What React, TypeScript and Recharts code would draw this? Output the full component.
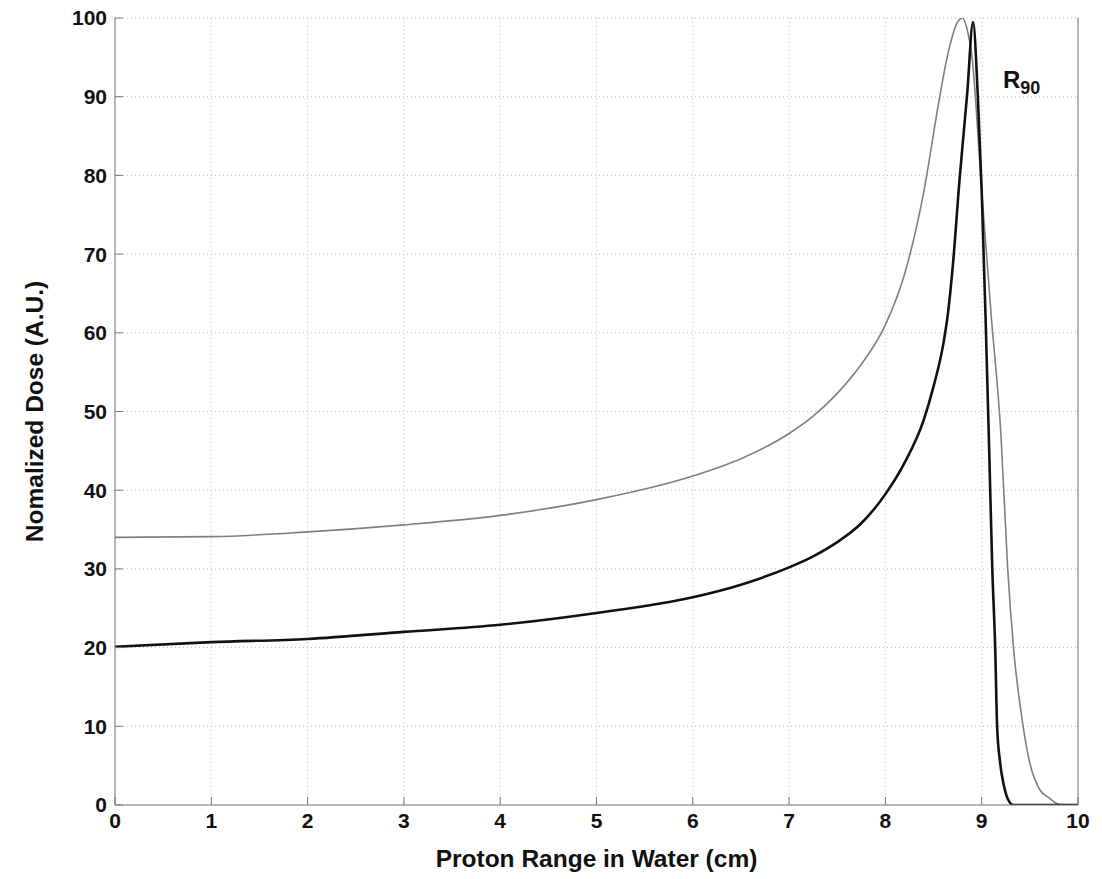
import React from 'react';
import {
  CartesianGrid,
  Line,
  LineChart,
  ReferenceDot,
  XAxis,
  YAxis,
} from 'recharts';

// broad (gray) depth-dose curve
const grayX = [0, 1, 2, 3, 4, 5, 6, 6.5, 7, 7.25, 7.5, 7.75, 8, 8.2, 8.4, 8.55, 8.65, 8.75, 8.8, 8.85, 8.9, 9, 9.1, 9.2, 9.27, 9.33, 9.43, 9.5, 9.6, 9.7, 9.8, 10];
const grayY = [34, 34.1, 34.7, 35.6, 36.8, 38.8, 41.8, 44, 47.2, 49.4, 52.3, 56, 61, 67.5, 78, 89, 95.5, 99.5, 100, 98.5, 95, 78, 62, 47, 30, 20, 10, 5.3, 2, 0.9, 0.1, 0];

// sharp (black) depth-dose curve
const blackX = [0, 1, 2, 3, 4, 5, 6, 6.5, 7, 7.25, 7.5, 7.75, 8, 8.2, 8.4, 8.5, 8.6, 8.65, 8.7, 8.77, 8.85, 8.91, 8.96, 9, 9.04, 9.08, 9.11, 9.14, 9.16, 9.19, 9.23, 9.27, 9.33, 10];
const blackY = [20.1, 20.7, 21.1, 22, 22.9, 24.4, 26.4, 28, 30.2, 31.6, 33.4, 35.8, 39.5, 43.5, 49, 53.2, 58.5, 62.5, 68.5, 79.5, 90.5, 99.5, 90, 78, 62, 44, 30, 20, 10, 5.5, 2.5, 0.8, 0, 0];

const xTicks = [0, 1, 2, 3, 4, 5, 6, 7, 8, 9, 10];
const yTicks = [0, 10, 20, 30, 40, 50, 60, 70, 80, 90, 100];

const xTitle = 'Proton Range in Water (cm)';
const yTitle = 'Nomalized Dose (A.U.)';
const r90At = { x: 9.22, y: 91.1 };

const grayData = grayX.map((x, i) => ({ x, y: grayY[i] }));
const blackData = blackX.map((x, i) => ({ x, y: blackY[i] }));

const font = '"Liberation Sans", Arial, sans-serif';
const tickStyle = { fill: '#111', fontSize: 21, fontWeight: 700, fontFamily: font };
const axisStroke = '#777';

function R90Label(props: any) {
  const { viewBox } = props;
  return (
    <text x={viewBox.x} y={viewBox.y} fontFamily={font} fontWeight={700} fill="#111">
      <tspan fontSize={24}>R</tspan>
      <tspan fontSize={18} dy={6}>90</tspan>
    </text>
  );
}

function YTitle(props: any) {
  const { viewBox } = props;
  const cx = viewBox.x + 34;
  const cy = viewBox.y + viewBox.height / 2;
  return (
    <text
      x={cx}
      y={cy}
      transform={`rotate(-90 ${cx} ${cy})`}
      textAnchor="middle"
      dominantBaseline="central"
      fontFamily={font}
      fontWeight={700}
      fontSize={24.5}
      fill="#111"
    >
      {yTitle}
    </text>
  );
}

function XTitle(props: any) {
  const { viewBox } = props;
  return (
    <text
      x={viewBox.x + viewBox.width / 2}
      y={viewBox.y + 62}
      textAnchor="middle"
      fontFamily={font}
      fontWeight={700}
      fontSize={24.5}
      fill="#111"
    >
      {xTitle}
    </text>
  );
}

export default function App() {
  return (
    <div style={{ position: 'absolute', left: 0, top: 0, background: '#fff' }}>
      <LineChart width={1102} height={879} margin={{ top: 18, right: 0, left: 0, bottom: 0 }}>
        <CartesianGrid strokeDasharray="1 3" stroke="#bbb" />
        <XAxis
          type="number"
          dataKey="x"
          domain={[0, 10]}
          ticks={xTicks}
          allowDataOverflow
          height={74}
          tick={tickStyle}
          tickSize={-8}
          tickMargin={16}
          tickLine={{ stroke: axisStroke }}
          axisLine={{ stroke: axisStroke }}
          label={{ content: XTitle }}
        />
        <XAxis
          xAxisId="top"
          orientation="top"
          type="number"
          dataKey="x"
          domain={[0, 10]}
          ticks={xTicks}
          allowDataOverflow
          height={0}
          tick={false}
          tickSize={-8}
          tickLine={{ stroke: axisStroke }}
          axisLine={{ stroke: axisStroke }}
        />
        <YAxis
          type="number"
          domain={[0, 100]}
          ticks={yTicks}
          allowDataOverflow
          width={115}
          tick={tickStyle}
          tickSize={-8}
          tickMargin={16}
          tickLine={{ stroke: axisStroke }}
          axisLine={{ stroke: axisStroke }}
          label={{ content: YTitle }}
        />
        <YAxis
          yAxisId="right"
          orientation="right"
          type="number"
          domain={[0, 100]}
          ticks={yTicks}
          allowDataOverflow
          width={24}
          tick={false}
          tickSize={-8}
          tickLine={{ stroke: axisStroke }}
          axisLine={{ stroke: axisStroke }}
        />
        <Line
          data={grayData}
          dataKey="y"
          type="monotone"
          stroke="#7f7f7f"
          strokeWidth={1.6}
          dot={false}
          isAnimationActive={false}
        />
        <Line
          data={blackData}
          dataKey="y"
          type="monotone"
          stroke="#111"
          strokeWidth={2.6}
          dot={false}
          isAnimationActive={false}
        />
        <ReferenceDot
          x={r90At.x}
          y={r90At.y}
          r={0}
          fill="none"
          stroke="none"
          label={{ content: R90Label }}
        />
      </LineChart>
    </div>
  );
}
